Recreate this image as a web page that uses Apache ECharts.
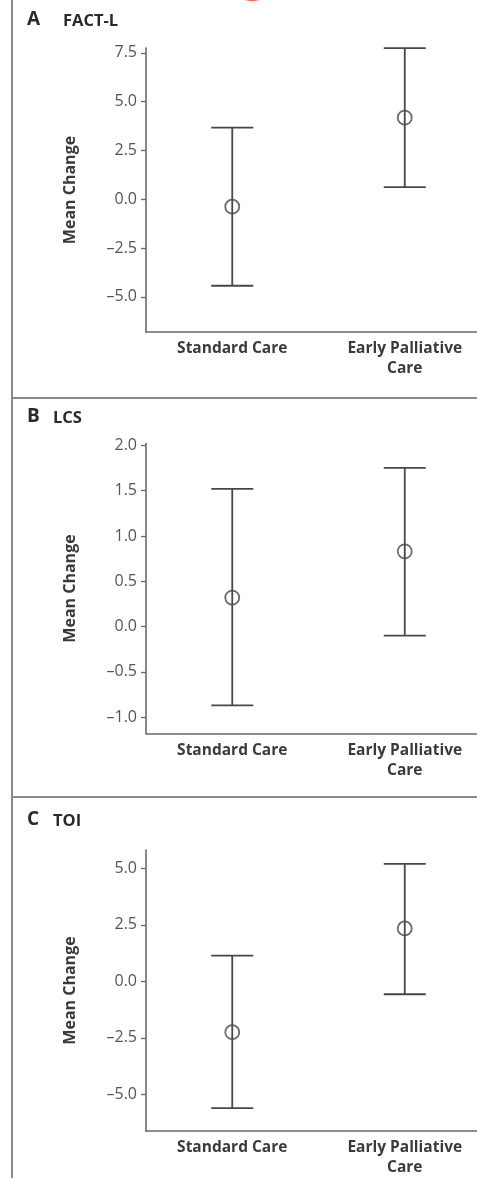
<!DOCTYPE html>
<html>
<head>
<meta charset="utf-8">
<script src="https://cdn.jsdelivr.net/npm/echarts@6/dist/echarts.min.js"></script>
<style>
  html, body { margin: 0; padding: 0; background: #fff; overflow: hidden; }
  #main { width: 500px; height: 1178px; }
</style>
</head>
<body>
<div id="main"></div>
<script>
// categories shared by all three panels
const categories = ['Standard Care', 'Early Palliative\nCare'];

// A: FACT-L
const factMean = [-0.38, 4.18];
const factLow = [-4.43, 0.62];
const factHigh = [3.67, 7.74];
const factTicks = [-5, -2.5, 0, 2.5, 5, 7.5];

// B: LCS
const lcsMean = [0.32, 0.83];
const lcsLow = [-0.87, -0.10];
const lcsHigh = [1.52, 1.75];
const lcsTicks = [-1, -0.5, 0, 0.5, 1, 1.5, 2];

// C: TOI
const toiMean = [-2.25, 2.34];
const toiLow = [-5.61, -0.57];
const toiHigh = [1.14, 5.2];
const toiTicks = [-5, -2.5, 0, 2.5, 5];

const panelLetters = ['A', 'B', 'C'];
const panelNames = ['FACT-L', 'LCS', 'TOI'];

var chartDom = document.getElementById('main');
var myChart = echarts.init(chartDom, null, { renderer: 'canvas' });

const ink = '#474747';
const font = "'Open Sans', sans-serif";

// plot area runs past the right edge of the 477px window, as in the cropped figure
const grids = [
  { left: 146, width: 345, top: 48, height: 284 },
  { left: 146, width: 345, top: 443.5, height: 290 },
  { left: 146, width: 345, top: 850, height: 284 }
];

const ranges = [
  { min: -6.8, max: 7.75, ticks: factTicks },
  { min: -1.18, max: 2.02, ticks: lcsTicks },
  { min: -6.62, max: 5.81, ticks: toiTicks }
];

const panels = [
  { mean: factMean, low: factLow, high: factHigh },
  { mean: lcsMean, low: lcsLow, high: lcsHigh },
  { mean: toiMean, low: toiLow, high: toiHigh }
];

function fmt(v) {
  return v.toFixed(1).replace('-', '\u2013');
}

function renderErrorBar(params, api) {
  const x = api.value(0);
  const lo = api.coord([x, api.value(1)]);
  const hi = api.coord([x, api.value(2)]);
  const hw = 21;
  const style = { stroke: ink, lineWidth: 1.8, fill: null };
  return {
    type: 'group',
    children: [
      { type: 'line', shape: { x1: hi[0], y1: hi[1], x2: lo[0], y2: lo[1] }, style: style },
      { type: 'line', shape: { x1: hi[0] - hw, y1: hi[1], x2: hi[0] + hw, y2: hi[1] }, style: style },
      { type: 'line', shape: { x1: lo[0] - hw, y1: lo[1], x2: lo[0] + hw, y2: lo[1] }, style: style }
    ]
  };
}

const xAxes = grids.map((g, i) => ({
  type: 'category',
  gridIndex: i,
  data: categories,
  boundaryGap: true,
  axisTick: { show: false },
  axisLine: { onZero: false, lineStyle: { color: '#6a6a6a', width: 1.6 } },
  axisLabel: {
    interval: 0,
    margin: 7,
    fontFamily: font,
    fontWeight: 700,
    fontSize: 15.5,
    lineHeight: 20,
    color: '#3a3a3a'
  }
}));

const yAxes = ranges.map((r, i) => ({
  type: 'value',
  gridIndex: i,
  min: r.min,
  max: r.max,
  name: 'Mean Change',
  nameLocation: 'middle',
  nameRotate: 90,
  nameGap: 68,
  nameTextStyle: { fontFamily: font, fontWeight: 700, fontSize: 16, color: '#3a3a3a' },
  splitLine: { show: false },
  axisLine: { show: true, onZero: false, lineStyle: { color: '#6a6a6a', width: 1.6 } },
  axisTick: { show: true, length: 5, customValues: r.ticks, lineStyle: { color: '#6a6a6a', width: 1.3 } },
  axisLabel: {
    customValues: r.ticks,
    formatter: fmt,
    margin: 9,
    fontFamily: font,
    fontSize: 16,
    color: '#555555'
  }
}));

const series = [];
panels.forEach((p, i) => {
  series.push({
    type: 'custom',
    xAxisIndex: i,
    yAxisIndex: i,
    renderItem: renderErrorBar,
    encode: { x: 0, y: [1, 2] },
    data: categories.map((c, k) => [k, p.low[k], p.high[k]]),
    z: 2
  });
  series.push({
    type: 'scatter',
    xAxisIndex: i,
    yAxisIndex: i,
    symbol: 'circle',
    symbolSize: 14,
    itemStyle: { color: 'rgba(0,0,0,0)', borderColor: ink, borderWidth: 1.8 },
    data: categories.map((c, k) => [k, p.mean[k]]),
    z: 3
  });
});

const titleY = [20, 417, 820];
const nameX = [63, 53, 53];
const graphics = [
  { type: 'line', shape: { x1: 12, y1: 0, x2: 12, y2: 1178 }, style: { stroke: '#8a8a8a', lineWidth: 2 } },
  { type: 'line', shape: { x1: 12, y1: 398, x2: 500, y2: 398 }, style: { stroke: '#8a8a8a', lineWidth: 1.8 } },
  { type: 'line', shape: { x1: 12, y1: 797, x2: 500, y2: 797 }, style: { stroke: '#8a8a8a', lineWidth: 1.8 } },
  { type: 'circle', shape: { cx: 252, cy: -26, r: 27 }, style: { fill: '#ee5a45' } }
];
panelLetters.forEach((l, i) => {
  graphics.push({
    type: 'text', x: 27, y: titleY[i],
    style: { text: l, fontFamily: font, fontWeight: 700, fontSize: 19, fill: '#2a2a2a', verticalAlign: 'middle' }
  });
  graphics.push({
    type: 'text', x: nameX[i], y: titleY[i] + 1,
    style: { text: panelNames[i], fontFamily: font, fontWeight: 700, fontSize: 16.5, fill: '#2a2a2a', verticalAlign: 'middle' }
  });
});

var option = {
  animation: false,
  backgroundColor: '#ffffff',
  grid: grids,
  xAxis: xAxes,
  yAxis: yAxes,
  series: series,
  graphic: graphics
};

myChart.setOption(option);
</script>
</body>
</html>
